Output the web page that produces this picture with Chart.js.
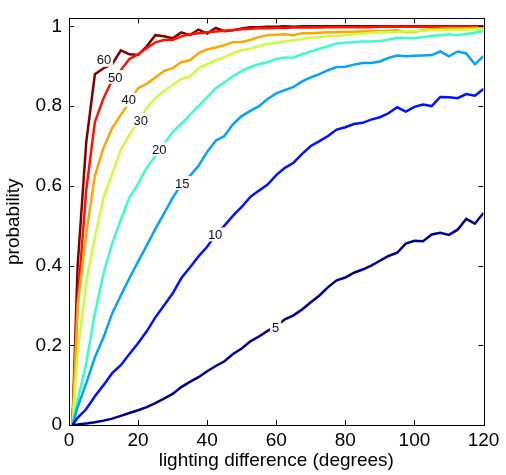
<!DOCTYPE html>
<html>
<head>
<meta charset="utf-8">
<script src="https://cdn.jsdelivr.net/npm/chart.js@4"></script>
<style>
  html, body { margin: 0; padding: 0; background: #fff; }
  #wrap { width: 506px; height: 475px; }
</style>
</head>
<body>
<div id="wrap"><canvas id="probChart" width="506" height="475"></canvas></div>
<script>
// lighting difference (degrees)
const degrees = [1, 2.5, 5, 7.5, 10, 12.5, 15, 17.5, 20, 22.5, 25, 27.5, 30, 32.5, 35, 37.5, 40, 42.5, 45, 47.5,
  50, 52.5, 55, 57.5, 60, 62.5, 65, 67.5, 70, 72.5, 75, 77.5, 80, 82.5, 85, 87.5, 90, 92.5, 95, 97.5,
  100, 102.5, 105, 107.5, 110, 112.5, 115, 117.5, 120];

const p5 = [0, 0.001, 0.004, 0.007, 0.011, 0.016, 0.023, 0.030, 0.037, 0.045, 0.055, 0.066, 0.078, 0.095, 0.108, 0.120, 0.135, 0.148, 0.160, 0.178,
  0.192, 0.210, 0.222, 0.236, 0.248, 0.265, 0.275, 0.290, 0.308, 0.325, 0.346, 0.363, 0.370, 0.382, 0.390, 0.400, 0.412, 0.424, 0.432, 0.455,
  0.462, 0.461, 0.478, 0.482, 0.477, 0.490, 0.517, 0.505, 0.532];
const p10 = [0, 0.018, 0.04, 0.072, 0.10, 0.13, 0.15, 0.178, 0.205, 0.235, 0.27, 0.30, 0.33, 0.368, 0.395, 0.423, 0.447, 0.478, 0.50, 0.525,
  0.547, 0.572, 0.588, 0.603, 0.627, 0.645, 0.658, 0.68, 0.70, 0.712, 0.725, 0.741, 0.747, 0.755, 0.758, 0.766, 0.772, 0.782, 0.797, 0.786,
  0.798, 0.804, 0.800, 0.823, 0.822, 0.820, 0.830, 0.826, 0.843];
const p15 = [0, 0.045, 0.105, 0.17, 0.22, 0.28, 0.325, 0.368, 0.41, 0.45, 0.492, 0.53, 0.57, 0.603, 0.625, 0.65, 0.685, 0.713, 0.725, 0.755,
  0.775, 0.788, 0.80, 0.818, 0.832, 0.84, 0.848, 0.862, 0.872, 0.88, 0.89, 0.898, 0.899, 0.904, 0.908, 0.908, 0.912, 0.921, 0.927, 0.925,
  0.926, 0.927, 0.928, 0.937, 0.925, 0.937, 0.932, 0.905, 0.925];
const p20 = [0, 0.06, 0.155, 0.28, 0.38, 0.455, 0.515, 0.57, 0.605, 0.645, 0.675, 0.705, 0.735, 0.755, 0.778, 0.80, 0.822, 0.845, 0.86, 0.875,
  0.888, 0.898, 0.905, 0.91, 0.918, 0.921, 0.922, 0.93, 0.937, 0.944, 0.95, 0.957, 0.959, 0.96, 0.962, 0.962, 0.963, 0.967, 0.971, 0.971,
  0.970, 0.973, 0.976, 0.978, 0.98, 0.978, 0.981, 0.984, 0.988];
const p30 = [0, 0.18, 0.36, 0.47, 0.57, 0.63, 0.69, 0.728, 0.76, 0.795, 0.82, 0.838, 0.853, 0.868, 0.874, 0.895, 0.905, 0.915, 0.923, 0.933,
  0.94, 0.944, 0.95, 0.956, 0.959, 0.962, 0.965, 0.968, 0.972, 0.973, 0.975, 0.976, 0.978, 0.98, 0.982, 0.984, 0.985, 0.985, 0.986, 0.987,
  0.988, 0.989, 0.99, 0.99, 0.991, 0.991, 0.992, 0.993, 0.994];
const p40 = [0, 0.30, 0.48, 0.625, 0.695, 0.745, 0.778, 0.81, 0.845, 0.856, 0.872, 0.888, 0.895, 0.91, 0.915, 0.933, 0.942, 0.947, 0.953, 0.96,
  0.961, 0.966, 0.973, 0.978, 0.979, 0.98, 0.978, 0.983, 0.983, 0.984, 0.985, 0.985, 0.986, 0.986, 0.987, 0.988, 0.988, 0.989, 0.99, 0.985,
  0.986, 0.991, 0.993, 0.994, 0.995, 0.995, 0.995, 0.996, 0.996];
const p50 = [0, 0.31, 0.59, 0.76, 0.82, 0.865, 0.89, 0.918, 0.93, 0.945, 0.96, 0.966, 0.966, 0.975, 0.98, 0.983, 0.985, 0.987, 0.989, 0.991,
  0.993, 0.994, 0.995, 0.995, 0.996, 0.996, 0.997, 0.997, 0.997, 0.997, 0.998, 0.998, 0.998, 0.998, 0.998, 0.998, 0.999, 0.999, 0.999, 0.999,
  0.999, 0.999, 0.999, 0.999, 0.999, 0.999, 0.999, 0.999, 0.999];
const p60 = [0, 0.40, 0.71, 0.88, 0.895, 0.905, 0.94, 0.93, 0.928, 0.95, 0.978, 0.975, 0.97, 0.985, 0.978, 0.992, 0.982, 0.996, 0.988, 0.99,
  0.995, 0.998, 0.998, 0.999, 0.999, 1, 0.999, 1, 1, 1, 1, 1, 1, 1, 1, 1, 1, 1, 1, 1,
  1, 1, 1, 1, 1, 1, 1, 1, 1];

const levelNames = ['5', '10', '15', '20', '30', '40', '50', '60'];
const levelSeries = [p5, p10, p15, p20, p30, p40, p50, p60];
const levelColors = ['#00008f', '#0012ff', '#00a4ff', '#36ffc9', '#c9ff36', '#ffa400', '#ff1200', '#800000'];

// where the inline labels sit (data units)
const labelDeg = [59.8, 42.3, 32.8, 26.1, 20.8, 17.3, 13.4, 10.1];
const labelProb = [0.246, 0.478, 0.607, 0.692, 0.765, 0.816, 0.873, 0.916];

const xTicks = [0, 20, 40, 60, 80, 100, 120];
const yTicks = [0, 0.2, 0.4, 0.6, 0.8, 1];
const yTickLabels = ['0', '0.2', '0.4', '0.6', '0.8', '1'];

const FONT = '"Liberation Sans", Arial, Helvetica, sans-serif';

// box around the axes with the ticks pointing inwards, matlab style
const boxTicks = {
  id: 'boxTicks',
  afterDraw(chart) {
    const { ctx, chartArea: a, scales } = chart;
    const len = 5;
    ctx.save();
    ctx.strokeStyle = '#000';
    ctx.lineWidth = 1;
    ctx.beginPath();
    xTicks.forEach((v) => {
      const x = Math.round(scales.x.getPixelForValue(v)) + 0.5;
      ctx.moveTo(x, a.bottom); ctx.lineTo(x, a.bottom - len);
      ctx.moveTo(x, a.top); ctx.lineTo(x, a.top + len);
    });
    yTicks.forEach((v) => {
      const y = Math.round(scales.y.getPixelForValue(v)) + 0.5;
      ctx.moveTo(a.left, y); ctx.lineTo(a.left + len, y);
      ctx.moveTo(a.right, y); ctx.lineTo(a.right - len, y);
    });
    ctx.stroke();
    ctx.strokeRect(Math.round(a.left) + 0.5, Math.round(a.top) + 0.5,
      Math.round(a.right - a.left), Math.round(a.bottom - a.top));
    ctx.restore();
  }
};

// contour-style labels sitting on the lines
const lineLabels = {
  id: 'lineLabels',
  afterDatasetsDraw(chart) {
    const { ctx, scales } = chart;
    ctx.save();
    ctx.font = '13px ' + FONT;
    ctx.textAlign = 'center';
    ctx.textBaseline = 'middle';
    levelNames.forEach((name, i) => {
      const x = scales.x.getPixelForValue(labelDeg[i]);
      const y = scales.y.getPixelForValue(labelProb[i]);
      const w = ctx.measureText(name).width + 4;
      ctx.fillStyle = 'rgba(255,255,255,0.92)';
      ctx.fillRect(x - w / 2, y - 7, w, 14);
      ctx.fillStyle = '#111';
      ctx.fillText(name, x, y + 1);
    });
    ctx.restore();
  }
};

const datasets = levelSeries.map((s, i) => ({
  label: levelNames[i],
  data: degrees.map((d, j) => ({ x: d, y: s[j] })),
  borderColor: levelColors[i],
  backgroundColor: levelColors[i],
  borderWidth: 2.5,
  pointRadius: 0,
  tension: 0,
  fill: false,
}));

new Chart(document.getElementById('probChart'), {
  type: 'line',
  data: { datasets: datasets },
  options: {
    responsive: false,
    animation: false,
    layout: { padding: { top: 9, right: 22.5, left: 0, bottom: 0 } },
    plugins: { legend: { display: false }, tooltip: { enabled: false } },
    scales: {
      x: {
        type: 'linear',
        min: 0,
        max: 120,
        afterBuildTicks: (s) => { s.ticks = xTicks.map((v) => ({ value: v })); },
        afterFit: (s) => { s.height = 50; },
        grid: { display: false, drawTicks: false },
        border: { display: false },
        ticks: { color: '#000', padding: 4, maxRotation: 0, font: { family: FONT, size: 19 } },
        title: { display: true, text: 'lighting difference (degrees)', color: '#000', padding: { top: 0, bottom: 3 }, font: { family: FONT, size: 19 } },
      },
      y: {
        min: 0,
        max: 1.02,
        afterBuildTicks: (s) => { s.ticks = yTicks.map((v) => ({ value: v })); },
        afterFit: (s) => { s.width = 69; },
        grid: { display: false, drawTicks: false },
        border: { display: false },
        ticks: {
          color: '#000', padding: 7, font: { family: FONT, size: 19 },
          callback: (v) => yTickLabels[yTicks.indexOf(v)],
        },
        title: { display: true, text: 'probability', color: '#000', padding: { top: 2, bottom: 0 }, font: { family: FONT, size: 19 } },
      },
    },
  },
  plugins: [boxTicks, lineLabels],
});
</script>
</body>
</html>
